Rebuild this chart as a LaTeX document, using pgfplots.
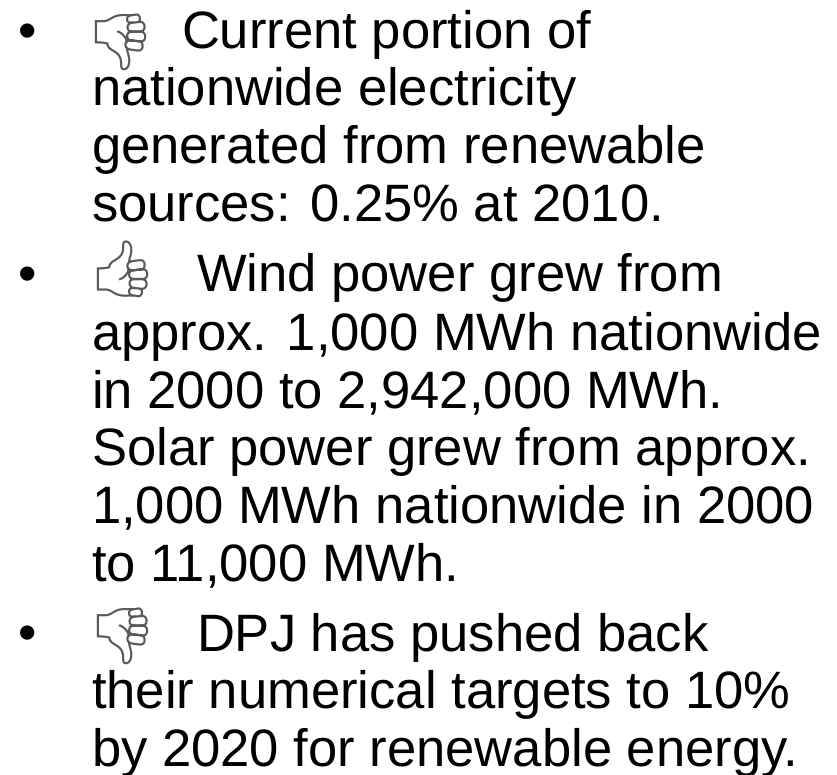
\documentclass[border=0pt]{standalone}
\usepackage{pgfplots}
\pgfplotsset{compat=1.18}
\usepackage{fontspec}
\setmainfont{Liberation Sans}
\newfontfamily\emojifont{Noto Emoji}
\tikzset{
  slide/.style={anchor=base west, inner sep=0pt, outer sep=0pt, font=\fontsize{52.6}{52.6}\selectfont, text=black},
  thumb/.style={anchor=base west, inner sep=0pt, outer sep=0pt, font=\fontsize{56}{56}\emojifont, text=black!65},
}
\begin{document}
\begin{tikzpicture}
\useasboundingbox (0,0) rectangle (837pt,775pt);
\begin{axis}[
  scale only axis, width=837pt, height=775pt,
  xmin=0, xmax=837, ymin=0, ymax=775, y dir=reverse,
  hide axis, clip=false,
]
  \addplot[draw=none] coordinates {(0,0)(837,775)};
  % bullets
  \node[slide] at (axis cs:18,48.5) {•};
  \node[slide] at (axis cs:18,291.5) {•};
  \node[slide] at (axis cs:18,650.5) {•};
  % thumbs
  \node[thumb] at (axis cs:85,62) {👎};
  \node[thumb] at (axis cs:87,289) {👍};
  \node[thumb] at (axis cs:87,655) {👎};
  % first block
  \node[slide] at (axis cs:182,48.5) {Current portion of};
  \node[slide] at (axis cs:92,106) {nationwide electricity};
  \node[slide] at (axis cs:92,164) {generated from renewable};
  \node[slide] at (axis cs:92,222) {sources: 0.25\% at 2010.};
  % second block
  \node[slide] at (axis cs:197,292) {Wind power grew from};
  \node[slide] at (axis cs:92,350) {approx. 1,000 MWh nationwide};
  \node[slide] at (axis cs:92,408) {in 2000 to 2,942,000 MWh.};
  \node[slide] at (axis cs:92,465) {Solar power grew from approx.};
  \node[slide] at (axis cs:92,523) {1,000 MWh nationwide in 2000};
  \node[slide] at (axis cs:92,581) {to 11,000 MWh.};
  % third block
  \node[slide] at (axis cs:197,651) {DPJ has pushed back};
  \node[slide] at (axis cs:92,708.5) {their numerical targets to 10\%};
  \node[slide] at (axis cs:92,766) {by 2020 for renewable energy.};
\end{axis}
\end{tikzpicture}
\end{document}
